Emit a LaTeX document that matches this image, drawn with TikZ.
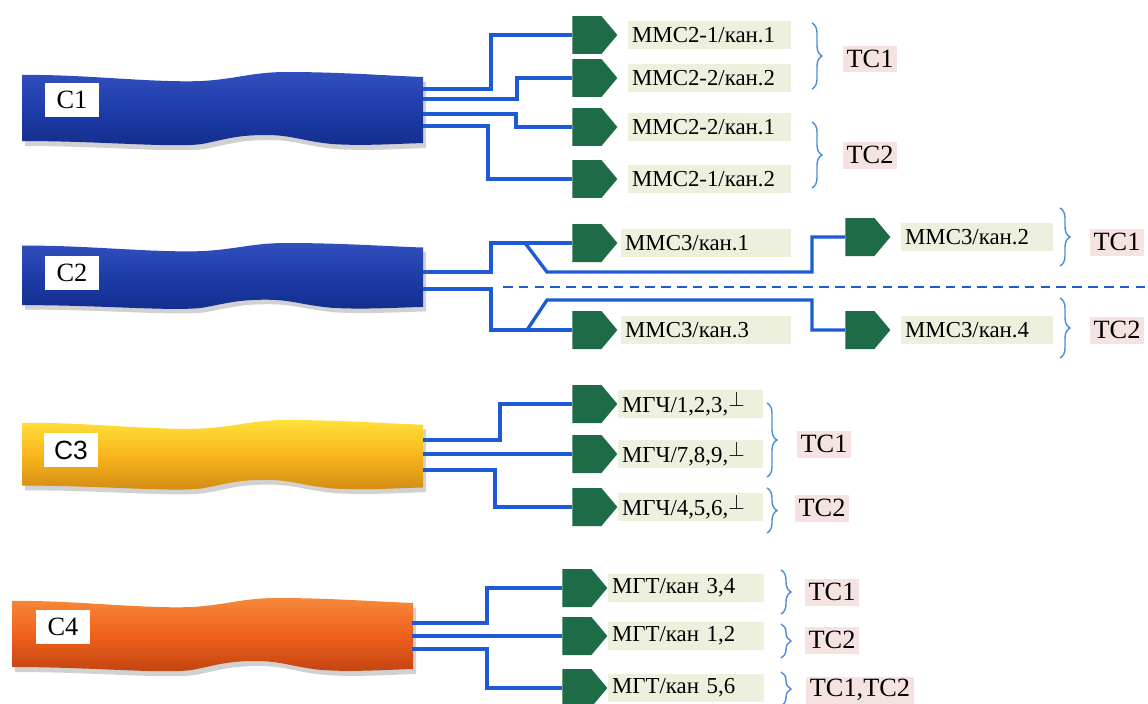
\documentclass[tikz,border=0pt]{standalone}
\usepackage{fontspec}
\setmainfont{Liberation Serif}
\newfontfamily\labelsans{Liberation Sans}
\usetikzlibrary{positioning,calc,shapes.symbols,decorations.pathreplacing}
\definecolor{wireblue}{HTML}{1D5BD6}
\definecolor{plugreen}{HTML}{1E6B47}
\definecolor{tagfill}{HTML}{EDF0DC}
\definecolor{grpfill}{HTML}{F5E3E1}
\definecolor{brkblue}{HTML}{4A8FD6}
\definecolor{blueA}{HTML}{3150BE}
\definecolor{blueB}{HTML}{1D3CA8}
\definecolor{blueC}{HTML}{132D8C}
\definecolor{yelA}{HTML}{FFE03A}
\definecolor{yelB}{HTML}{F8B41C}
\definecolor{yelC}{HTML}{D08A14}
\definecolor{orA}{HTML}{F7883A}
\definecolor{orB}{HTML}{EF5F1A}
\definecolor{orC}{HTML}{BF4310}
% outline of one wavy cable, 401 wide
\newcommand\cablepath{(0,3) .. controls (60,2) and (130,11) .. (180,9)
  .. controls (215,7) and (230,0) .. (265,0) .. controls (320,0) and (370,4) .. (401,5)
  -- (401,71) .. controls (370,72) and (340,74) .. (310,72)
  .. controls (280,69) and (270,63) .. (244,63) .. controls (215,63) and (205,67) .. (180,72)
  .. controls (150,76) and (80,69) .. (0,69) -- cycle}

\begin{document}
\begin{tikzpicture}[
  x=0.02cm, y=-0.02cm,
  wire/.style={draw=wireblue, line width=1.9pt},
  plug/.style={signal, signal to=east, signal pointer angle=100, fill=plugreen,
    minimum width=0.9cm, minimum height=0.76cm, inner sep=0pt, anchor=west},
  tag/.style={fill=tagfill, inner xsep=0.08cm, inner ysep=0pt, minimum height=0.56cm,
    align=left, font=\fontsize{13}{14}\selectfont},
  grp/.style={fill=grpfill, inner xsep=0.08cm, inner ysep=0.02cm, minimum height=0.54cm,
    font=\fontsize{15}{16}\selectfont},
  brk/.style={draw=brkblue, line width=0.8pt, decorate, decoration={brace, amplitude=0.2cm}},
  cname/.style={fill=white, minimum width=1.1cm, minimum height=0.68cm, inner sep=0pt,
    font=\fontsize{15}{15}\selectfont},
  sep/.style={draw=wireblue, line width=1pt, dash pattern=on 5.5pt off 3.5pt}
]
  \useasboundingbox (0,0) rectangle (1148,703);
  \fill[white] (0,0) rectangle (1148,703);

  % cables
  \foreach \bx/\by/\bh/\ca/\cb/\cc in {22/72/1/blueA/blueB/blueC, 22/243/0.9/blueA/blueB/blueC,
      22/420/0.95/yelA/yelB/yelC, 12/598/1/orA/orB/orC} {
    \begin{scope}[shift={(\bx,\by)}, yscale=\bh]
      \fill[black!18, shift={(3,5)}] \cablepath;
      \shade[top color=\ca, bottom color=\cc, middle color=\cb] \cablepath;
    \end{scope}
  }

  \node[cname] (c1) at (72,100) {C1};
  \node[cname] (c2) at (72,273) {C2};
  \node[cname, font=\labelsans\fontsize{15}{15}\selectfont] (c3) at (71,450) {C3};
  \node[cname] (c4) at (63,627) {C4};

  % C1
  \node[plug] (p11) at (572,35) {};
  \node[plug] (p12) at (572,78) {};
  \node[plug] (p13) at (572,127) {};
  \node[plug] (p14) at (572,179) {};
  \node[tag, text width=3.1cm, right=0.2cm of p11] (t11) {ММС2-1/кан.1};
  \node[tag, text width=3.1cm, right=0.2cm of p12] (t12) {ММС2-2/кан.2};
  \node[tag, text width=3.1cm, right=0.2cm of p13] (t13) {ММС2-2/кан.1};
  \node[tag, text width=3.1cm, right=0.2cm of p14] (t14) {ММС2-1/кан.2};
  \coordinate (c1a) at (423,89);
  \coordinate (c1b) at (423,99);
  \coordinate (c1c) at (423,114);
  \coordinate (c1d) at (423,126);
  \draw[wire] (c1a) -- ++(68,0) |- (p11);
  \draw[wire] (c1b) -- ++(94,0) |- (p12);
  \draw[wire] (c1c) -- ++(93,0) |- (p13);
  \draw[wire] (c1d) -- ++(65,0) |- (p14);
  \draw[brk] (812,23) -- (812,89);
  \node[grp] (g11) at (870,59) {ТС1};
  \draw[brk] (812,122) -- (812,188);
  \node[grp] (g12) at (870,155) {ТС2};

  % C2
  \node[plug] (p21) at (572,243) {};
  \node[plug] (p23) at (572,330) {};
  \node[plug] (p22) at (845,237) {};
  \node[plug] (p24) at (845,330) {};
  \node[tag, text width=3.24cm, right=0.06cm of p21] (t21) {ММС3/кан.1};
  \node[tag, text width=3.24cm, right=0.06cm of p23] (t23) {ММС3/кан.3};
  \node[tag, text width=2.88cm, right=0.2cm of p22] (t22) {ММС3/кан.2};
  \node[tag, text width=2.88cm, right=0.2cm of p24] (t24) {ММС3/кан.4};
  \coordinate (c2a) at (423,272);
  \coordinate (c2b) at (423,289);
  \draw[wire] (c2a) -- ++(68,0) |- (p21);
  \draw[wire] (c2b) -- ++(68,0) |- (p23);
  \coordinate (j21) at ($(p21.west)+(-47,0)$);
  \coordinate (j23) at ($(p23.west)+(-45,0)$);
  \draw[wire] (j21) -- ++(22,29) -- ++(265,0) |- (p22);
  \draw[wire] (j23) -- ++(20,-30) -- ++(265,0) |- (p24);
  \coordinate (d0) at (503,287);
  \coordinate (d1) at (1148,287);
  \draw[sep] (d0) -- (d1);
  \draw[brk] (1060,208) -- (1060,266);
  \node[grp] (g21) at (1117,242) {ТС1};
  \draw[brk] (1060,298) -- (1060,358);
  \node[grp] (g22) at (1117,330) {ТС2};

  % C3
  \node[plug] (p31) at (572,404) {};
  \node[plug] (p32) at (572,454) {};
  \node[plug] (p33) at (572,507) {};
  \node[tag, text width=2.74cm, right=0cm of p31] (t31) {МГЧ/1,2,3,\raisebox{0.5ex}{$\perp$}};
  \node[tag, text width=2.74cm, right=0cm of p32] (t32) {МГЧ/7,8,9,\raisebox{0.5ex}{$\perp$}};
  \node[tag, text width=2.74cm, right=0cm of p33] (t33) {МГЧ/4,5,6,\raisebox{0.5ex}{$\perp$}};
  \coordinate (c3a) at (423,440);
  \coordinate (c3b) at (423,454);
  \coordinate (c3c) at (423,470);
  \draw[wire] (c3a) -- ++(77,0) |- (p31);
  \draw[wire] (c3b) -- (p32);
  \draw[wire] (c3c) -- ++(72,0) |- (p33);
  \draw[brk] (767,403) -- (767,477);
  \node[grp] (g31) at (824,444) {ТС1};
  \draw[brk] (767,488) -- (767,533);
  \node[grp] (g32) at (822,508) {ТС2};

  % C4
  \node[plug] (p41) at (562,588) {};
  \node[plug] (p42) at (562,636) {};
  \node[plug] (p43) at (562,688) {};
  \node[tag, text width=2.96cm, right=0cm of p41] (t41) {МГТ/кан 3,4};
  \node[tag, text width=2.96cm, right=0cm of p42] (t42) {МГТ/кан 1,2};
  \node[tag, text width=2.96cm, right=0cm of p43] (t43) {МГТ/кан 5,6};
  \coordinate (c4a) at (412,623);
  \coordinate (c4b) at (412,636);
  \coordinate (c4c) at (412,649);
  \draw[wire] (c4a) -- ++(75,0) |- (p41);
  \draw[wire] (c4b) -- (p42);
  \draw[wire] (c4c) -- ++(75,0) |- (p43);
  \draw[brk] (781,570) -- (781,614);
  \node[grp] (g41) at (832,592) {ТС1};
  \draw[brk] (781,624) -- (781,658);
  \node[grp] (g42) at (832,640) {ТС2};
  \draw[brk] (781,672) -- (781,706);
  \node[grp] (g43) at (860,690) {ТС1,ТС2};
\end{tikzpicture}
\end{document}
